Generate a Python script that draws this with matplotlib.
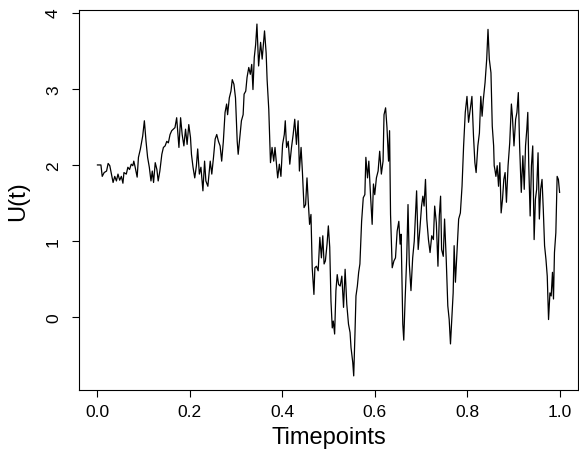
import matplotlib
matplotlib.use("Agg")
import matplotlib.pyplot as plt

plt.rcParams['font.family'] = ['Liberation Sans', 'DejaVu Sans']

# path
t = [0.000, 0.0075, 0.0103, 0.0145, 0.0197, 0.0231, 0.0267, 0.0303, 0.0338, 0.0374,
     0.0410, 0.0444, 0.0481, 0.0517, 0.0551, 0.0573, 0.0624, 0.0658, 0.0694, 0.0731,
     0.0765, 0.0786, 0.0816, 0.0859, 0.0887, 0.0929, 0.0957, 0.0979, 0.1015, 0.1051,
     0.1085, 0.1122, 0.1158, 0.1186, 0.1214, 0.1250, 0.1286, 0.1314, 0.1350, 0.1393,
     0.1427, 0.1464, 0.1500, 0.1534, 0.1571, 0.1607, 0.1641, 0.1677, 0.1714, 0.1763,
     0.1799, 0.1833, 0.1870, 0.1906, 0.1940, 0.1976, 0.2013, 0.2034, 0.2068, 0.2105,
     0.2141, 0.2169, 0.2205, 0.2239, 0.2282, 0.2318, 0.2346, 0.2389, 0.2440, 0.2474,
     0.2511, 0.2547, 0.2581, 0.2618, 0.2654, 0.2688, 0.2724, 0.2761, 0.2795, 0.2816,
     0.2853, 0.2889, 0.2917, 0.2953, 0.2987, 0.3024, 0.3045, 0.3081, 0.3115, 0.3152,
     0.3173, 0.3209, 0.3237, 0.3274, 0.3308, 0.3338, 0.3365, 0.3393, 0.3423, 0.3451,
     0.3487, 0.3530, 0.3564, 0.3615, 0.3650, 0.3671, 0.3707, 0.3744, 0.3778, 0.3814,
     0.3842, 0.3878, 0.3900, 0.3936, 0.3970, 0.4006, 0.4043, 0.4064, 0.4092, 0.4128,
     0.4162, 0.4199, 0.4235, 0.4269, 0.4306, 0.4342, 0.4370, 0.4406, 0.4434, 0.4470,
     0.4504, 0.4534, 0.4562, 0.4590, 0.4620, 0.4647, 0.4684, 0.4705, 0.4739, 0.4776,
     0.4812, 0.4846, 0.4876, 0.4904, 0.4932, 0.4968, 0.4996, 0.5026, 0.5053, 0.5081,
     0.5103, 0.5132, 0.5160, 0.5188, 0.5218, 0.5252, 0.5288, 0.5325, 0.5359, 0.5395,
     0.5432, 0.5466, 0.5487, 0.5524, 0.5545, 0.5573, 0.5594, 0.5624, 0.5652, 0.5679,
     0.5716, 0.5752, 0.5786, 0.5808, 0.5844, 0.5872, 0.5908, 0.5944, 0.5972, 0.6000,
     0.6036, 0.6073, 0.6107, 0.6143, 0.6180, 0.6201, 0.6235, 0.6265, 0.6299, 0.6321,
     0.6342, 0.6378, 0.6415, 0.6449, 0.6485, 0.6521, 0.6549, 0.6571, 0.6592, 0.6607,
     0.6628, 0.6656, 0.6692, 0.6720, 0.6748, 0.6784, 0.6821, 0.6855, 0.6876, 0.6906,
     0.6940, 0.6977, 0.7013, 0.7041, 0.7068, 0.7098, 0.7126, 0.7162, 0.7197, 0.7233,
     0.7269, 0.7297, 0.7333, 0.7368, 0.7397, 0.7425, 0.7447, 0.7483, 0.7511, 0.7547,
     0.7581, 0.7611, 0.7639, 0.7667, 0.7697, 0.7718, 0.7746, 0.7782, 0.7816, 0.7853,
     0.7889, 0.7923, 0.7959, 0.7996, 0.8030, 0.8066, 0.8103, 0.8137, 0.8167, 0.8194,
     0.8231, 0.8265, 0.8295, 0.8323, 0.8350, 0.8387, 0.8423, 0.8451, 0.8479, 0.8515,
     0.8543, 0.8573, 0.8585, 0.8600, 0.8622, 0.8650, 0.8679, 0.8707, 0.8735, 0.8765,
     0.8793, 0.8821, 0.8850, 0.8885, 0.8921, 0.8957, 0.8979, 0.9013, 0.9049, 0.9077,
     0.9107, 0.9135, 0.9171, 0.9205, 0.9235, 0.9263, 0.9291, 0.9312, 0.9333, 0.9363,
     0.9391, 0.9419, 0.9449, 0.9477, 0.9504, 0.9534, 0.9562, 0.9590, 0.9620, 0.9647,
     0.9675, 0.9705, 0.9733, 0.9761, 0.9791, 0.9818, 0.9846, 0.9868, 0.9889, 0.9919,
     0.9947, 0.9974, 1.0000]

u = [2.00, 2.00, 1.85, 1.90, 1.92, 2.02, 1.99, 1.88, 1.77, 1.85,
     1.79, 1.88, 1.80, 1.85, 1.76, 1.90, 1.88, 1.97, 1.94, 2.01,
     1.99, 2.05, 1.97, 1.84, 2.10, 2.21, 2.31, 2.38, 2.58, 2.31,
     2.10, 1.97, 1.79, 1.92, 1.77, 2.03, 1.94, 1.79, 1.92, 2.14,
     2.23, 2.25, 2.31, 2.29, 2.40, 2.45, 2.47, 2.49, 2.62, 2.23,
     2.62, 2.40, 2.25, 2.47, 2.27, 2.53, 2.36, 2.14, 1.97, 1.83,
     1.99, 2.21, 1.88, 1.97, 1.66, 2.05, 1.79, 1.72, 2.05, 1.88,
     2.10, 2.34, 2.40, 2.31, 2.25, 2.05, 2.31, 2.69, 2.80, 2.66,
     2.88, 2.97, 3.12, 3.06, 2.88, 2.31, 2.14, 2.36, 2.58, 2.66,
     2.93, 2.97, 3.15, 3.28, 3.19, 3.32, 2.99, 3.41, 3.58, 3.85,
     3.30, 3.61, 3.39, 3.76, 3.47, 3.12, 2.73, 2.03, 2.23, 2.05,
     2.23, 1.99, 1.83, 2.01, 1.85, 2.27, 2.40, 2.58, 2.23, 2.31,
     2.01, 2.23, 2.40, 2.60, 2.27, 2.58, 1.92, 2.23, 1.92, 1.44,
     1.48, 1.83, 1.51, 1.22, 1.35, 0.65, 0.30, 0.65, 0.67, 0.61,
     1.05, 0.78, 1.07, 0.70, 0.74, 0.96, 1.20, 0.92, 0.21, -0.14,
     -0.05, -0.22, 0.35, 0.56, 0.43, 0.41, 0.54, 0.13, 0.63, 0.17,
     -0.09, -0.20, -0.40, -0.59, -0.77, -0.20, 0.28, 0.41, 0.59, 0.70,
     1.26, 1.57, 1.61, 2.10, 1.83, 2.05, 1.61, 1.22, 1.75, 1.61,
     1.83, 1.92, 2.18, 1.88, 2.05, 2.66, 2.75, 2.49, 2.05, 2.45,
     1.35, 0.65, 0.74, 0.78, 1.13, 1.26, 0.96, 1.09, 0.39, -0.09,
     -0.30, 0.21, 0.78, 1.48, 0.70, 0.35, 0.78, 1.00, 1.26, 1.66,
     0.89, 1.16, 1.46, 1.59, 1.46, 1.81, 1.29, 1.02, 0.85, 1.07,
     1.02, 1.46, 1.24, 0.67, 1.33, 1.59, 0.89, 0.80, 1.29, 0.76,
     0.15, -0.03, -0.35, -0.03, 0.32, 0.94, 0.46, 0.89, 1.29, 1.37,
     1.72, 2.25, 2.69, 2.90, 2.56, 2.73, 2.90, 2.38, 2.03, 1.90,
     2.25, 2.42, 2.90, 2.64, 2.86, 3.08, 3.39, 3.78, 3.39, 3.21,
     2.51, 2.25, 1.99, 1.94, 1.85, 1.99, 1.72, 2.03, 1.37, 1.55,
     1.81, 1.90, 1.51, 1.99, 2.29, 2.80, 2.64, 2.25, 2.60, 2.69,
     2.95, 2.25, 1.64, 2.12, 1.68, 2.25, 2.47, 2.69, 1.99, 1.33,
     1.99, 2.25, 1.02, 1.55, 1.68, 2.16, 1.29, 1.68, 1.81, 1.42,
     0.94, 0.76, 0.54, -0.03, 0.32, 0.28, 0.59, 0.24, 0.85, 1.11,
     1.85, 1.81, 1.64]

x_ticks = [0.0, 0.2, 0.4, 0.6, 0.8, 1.0]
y_ticks = [0, 1, 2, 3, 4]

fig = plt.figure(figsize=(5.79, 4.52), dpi=100)
ax = fig.add_axes([0.1364, 0.135, 0.862, 0.8407])
ax.plot(t, u, color='black', lw=0.9)

ax.set_xlim(-0.04, 1.04)
ymin, ymax = min(u), max(u)
pad = 0.04 * (ymax - ymin)
ax.set_ylim(ymin - pad, ymax + pad)

ax.set_xticks(x_ticks)
ax.set_xticklabels(['%.1f' % v for v in x_ticks])
ax.set_yticks(y_ticks)
ax.set_yticklabels([str(v) for v in y_ticks], rotation=90, va='center')
ax.tick_params(axis='both', direction='out', length=5, width=0.8, labelsize=12.5)
ax.tick_params(axis='x', pad=5)
ax.tick_params(axis='y', pad=8)

for s in ax.spines.values():
    s.set_linewidth(0.8)

ax.set_xlabel('Timepoints', fontsize=17, labelpad=5)
ax.set_ylabel('U(t)', fontsize=17, labelpad=12)

fig.savefig('out.png', dpi=100)
